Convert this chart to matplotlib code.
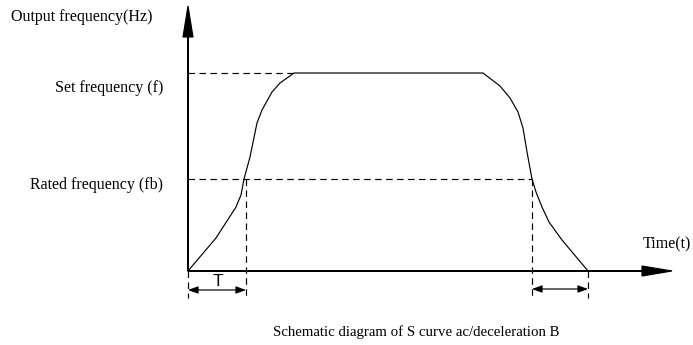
import matplotlib
matplotlib.use("Agg")
import matplotlib.pyplot as plt

# Data (time units arbitrary, frequency units arbitrary)
rise_t = [0, 28, 48, 53, 56, 62, 69, 74, 84, 92, 106]
rise_f = [0, 33, 64, 76, 92, 114, 148, 161, 179, 188, 198]
plateau_t = [106, 295]
fall_t = [295, 312, 322, 330, 335, 339, 344, 348, 354, 361, 374, 400]
fall_f = [198, 185, 173, 159, 143, 119, 92, 79, 64, 49, 31, 0]
set_f = 198
rated_f = 92
t_rise_rated = 58
t_fall_rated = 344
t_end = 400

labels_y = ["Set frequency (f)", "Rated frequency (fb)"]

SERIF = ["Liberation Serif", "DejaVu Serif"]
SANS = ["Liberation Sans", "DejaVu Sans"]

fig = plt.figure(figsize=(6.93, 3.45), dpi=100)
ax = fig.add_axes([0, 0, 1, 1])
ax.set_xlim(-188, 505)
ax.set_ylim(-74, 271)
ax.axis("off")

lw = 0.85
dash = (0, (5.5, 3.8))

# axes with arrows
ax.arrow(0, 0, 0, 265, head_width=10, head_length=31, length_includes_head=True,
         fc="black", ec="black", lw=lw)
ax.arrow(0, 0, 484, 0, head_width=10, head_length=30, length_includes_head=True,
         fc="black", ec="black", lw=lw)

# curve
t_all = rise_t + plateau_t[1:] + fall_t[1:]
f_all = rise_f + [set_f] + fall_f[1:]
ax.plot(t_all, f_all, color="black", lw=lw)

# dashed guides
ax.plot([0, rise_t[-1]], [set_f, set_f], color="black", lw=lw, ls=dash)
ax.plot([0, t_fall_rated], [rated_f, rated_f], color="black", lw=lw, ls=dash)
ax.plot([t_rise_rated, t_rise_rated], [rated_f, -27], color="black", lw=lw, ls=dash)
ax.plot([t_fall_rated, t_fall_rated], [rated_f, -27], color="black", lw=lw, ls=dash)
ax.plot([0, 0], [0, -27], color="black", lw=lw, ls=dash)
ax.plot([t_end, t_end], [0, -27], color="black", lw=lw, ls=dash)

# double arrows
ap = dict(arrowstyle="<|-|>,head_length=0.6,head_width=0.22", color="black", lw=lw,
          shrinkA=0, shrinkB=0)
ax.annotate("", xy=(0, -19), xytext=(t_rise_rated, -19), arrowprops=ap)
ax.annotate("", xy=(t_fall_rated, -18), xytext=(t_end, -18), arrowprops=ap)

ax.text(t_rise_rated / 2 + 1, -10.5, "T", family=SANS, fontsize=12.5, ha="center", va="center")

# labels
fs = 11.5
ax.text(-177, 254, "Output frequency(Hz)", family=SERIF, fontsize=fs, ha="left", va="center")
ax.text(-25, 183, labels_y[0], family=SERIF, fontsize=fs, ha="right", va="center")
ax.text(-25, 86, labels_y[1], family=SERIF, fontsize=fs, ha="right", va="center")
ax.text(455, 27, "Time(t)", family=SERIF, fontsize=fs, ha="left", va="center")
ax.text(85, -61, "Schematic diagram of S curve ac/deceleration B", family=SERIF,
        fontsize=10.7, ha="left", va="center")

fig.savefig("out.png", dpi=100)
